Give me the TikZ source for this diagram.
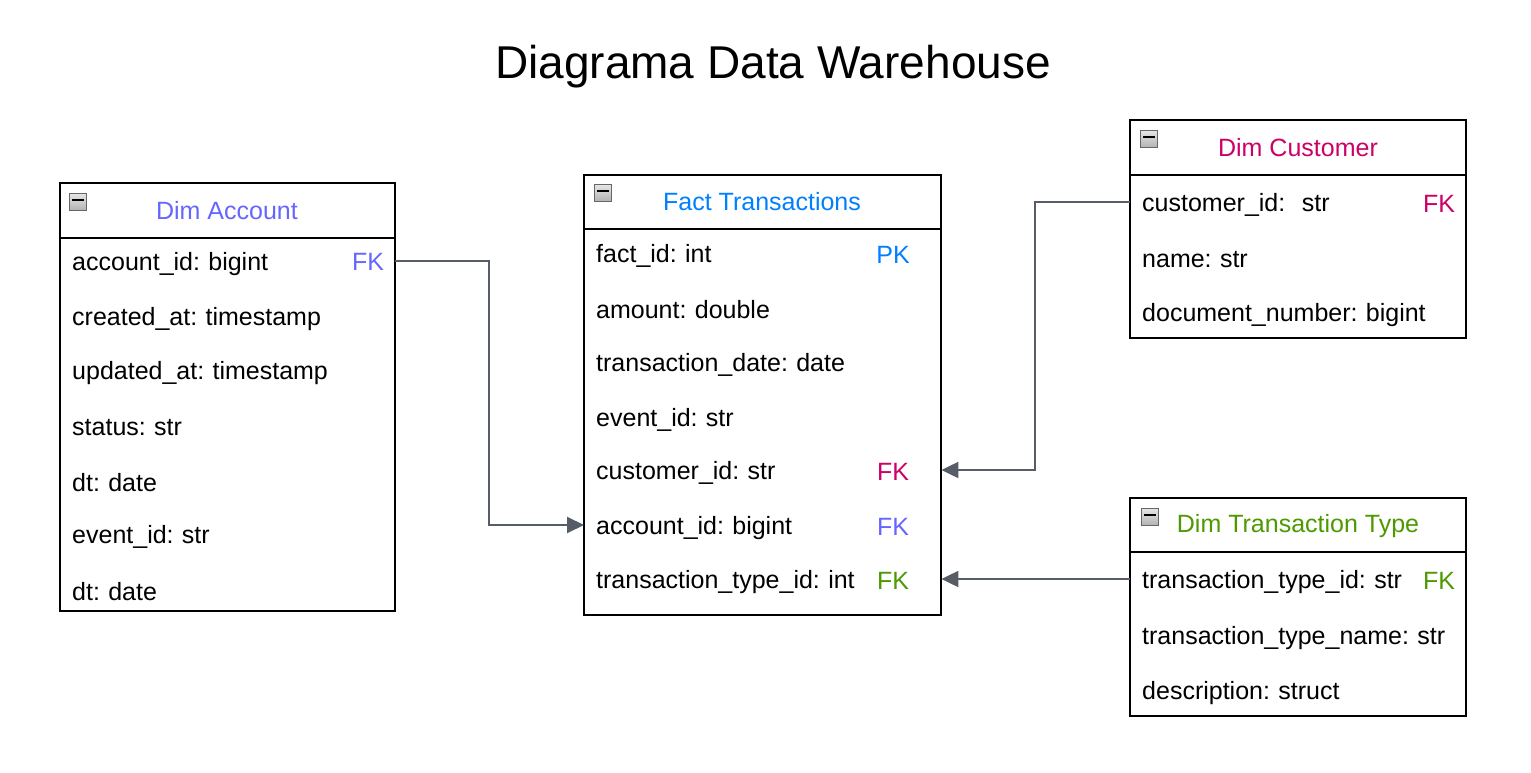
\documentclass[tikz,border=0pt]{standalone}
\usepackage{fontspec}
\setmainfont{Liberation Sans}
\usetikzlibrary{arrows.meta}
\definecolor{cblue}{HTML}{007FFF}
\definecolor{cpurple}{HTML}{6666FF}
\definecolor{ccrimson}{HTML}{CC0066}
\definecolor{cgreen}{HTML}{4D9900}
\definecolor{cline}{HTML}{565D66}
\newcommand\rowfont{\fontsize{25}{30}\selectfont\frenchspacing}
\begin{document}
\begin{tikzpicture}[x=1pt,y=-1pt,
  tablebox/.style={draw=black,line width=2pt,fill=white},
  sepline/.style={draw=black,line width=2pt},
  rowtxt/.style={anchor=west,inner xsep=12pt,inner ysep=0pt,text width=#1,align=left,minimum height=54pt,font=\rowfont},
  keytxt/.style={font=\rowfont,inner sep=0pt},
  headtxt/.style={font=\rowfont,inner sep=0pt},
  conn/.style={draw=cline,line width=2pt,-{Triangle[length=17pt,width=16pt]}},
  minusbox/.style={draw=gray!80!black,line width=1pt,top color=gray!20,bottom color=gray!60,minimum size=17pt,inner sep=0pt}
]
\useasboundingbox (0,0) rectangle (1531,773);
\fill[white] (0,0) rectangle (1531,773);

\node[font=\fontsize{46}{55}\selectfont,inner sep=0pt] (title) at (773,67) {Diagrama Data Warehouse};

% ---------- Dim Account ----------
\draw[tablebox] (60,183) rectangle (395,611);
\draw[sepline] (60,238) -- (395,238);
\node[minusbox] (accmin) at (78,202) {};
\node[headtxt,text=cpurple] (acctitle) at (227,211) {Dim Account};
\node[rowtxt=311pt] (acc1) at (60,264) {account\_id: bigint};
\node[rowtxt=311pt] (acc2) at (60,319) {created\_at: timestamp};
\node[rowtxt=311pt] (acc3) at (60,373) {updated\_at: timestamp};
\node[rowtxt=311pt] (acc4) at (60,428) {status: str};
\node[rowtxt=311pt] (acc5) at (60,483) {dt: date};
\node[rowtxt=311pt] (acc6) at (60,537) {event\_id: str};
\node[rowtxt=311pt] (acc7) at (60,592) {dt: date};
\node[keytxt,text=cpurple] (acck1) at (368,262) {FK};

% ---------- Fact Transactions ----------
\draw[tablebox] (584,175) rectangle (941,615);
\draw[sepline] (584,229) -- (941,229);
\node[minusbox] (factmin) at (603,193) {};
\node[headtxt,text=cblue] (facttitle) at (762,202) {Fact Transactions};
\node[rowtxt=333pt] (fact1) at (584,256) {fact\_id: int};
\node[rowtxt=333pt] (fact2) at (584,310) {amount: double};
\node[rowtxt=333pt] (fact3) at (584,365) {transaction\_date: date};
\node[rowtxt=333pt] (fact4) at (584,420) {event\_id: str};
\node[rowtxt=333pt] (fact5) at (584,473) {customer\_id: str};
\node[rowtxt=333pt] (fact6) at (584,528) {account\_id: bigint};
\node[rowtxt=333pt] (fact7) at (584,582) {transaction\_type\_id: int};
\node[keytxt,text=cblue] (factk1) at (893,255) {PK};
\node[keytxt,text=ccrimson] (factk5) at (893,472) {FK};
\node[keytxt,text=cpurple] (factk6) at (893,527) {FK};
\node[keytxt,text=cgreen] (factk7) at (893,581) {FK};

% ---------- Dim Customer ----------
\draw[tablebox] (1130,120) rectangle (1466,338);
\draw[sepline] (1130,175) -- (1466,175);
\node[minusbox] (custmin) at (1149,139) {};
\node[headtxt,text=ccrimson] (custtitle) at (1298,148) {Dim Customer};
\node[rowtxt=312pt] (cust1) at (1130,205) {customer\_id:\ \ str};
\node[rowtxt=312pt] (cust2) at (1130,260) {name: str};
\node[rowtxt=312pt] (cust3) at (1130,315) {document\_number: bigint};
\node[keytxt,text=ccrimson] (custk1) at (1439,204) {FK};

% ---------- Dim Transaction Type ----------
\draw[tablebox] (1130,498) rectangle (1466,716);
\draw[sepline] (1130,552) -- (1466,552);
\node[minusbox] (ttmin) at (1150,517) {};
\node[headtxt,text=cgreen] (tttitle) at (1298,526) {Dim Transaction Type};
\node[rowtxt=312pt] (tt1) at (1130,582) {transaction\_type\_id: str};
\node[rowtxt=312pt] (tt2) at (1130,638) {transaction\_type\_name: str};
\node[rowtxt=312pt] (tt3) at (1130,693) {description: struct};
\node[keytxt,text=cgreen] (ttk1) at (1439,581) {FK};

% minus bars
\foreach \m in {accmin,factmin,custmin,ttmin}{
  \draw[line width=2.5pt,black] ([xshift=-6pt,yshift=2pt]\m.center) -- ([xshift=6pt,yshift=2pt]\m.center);
}

% ---------- connectors ----------
\draw[conn] ([yshift=3pt]acc1.east) -- ++(94,0) |- ([yshift=3pt]fact6.west);
\draw[conn] ([yshift=3pt]cust1.west) -- ++(-95,0) |- ([yshift=3pt]fact5.east);
\draw[conn] ([yshift=3pt]tt1.west) -- ([yshift=3pt]fact7.east);
\end{tikzpicture}
\end{document}
